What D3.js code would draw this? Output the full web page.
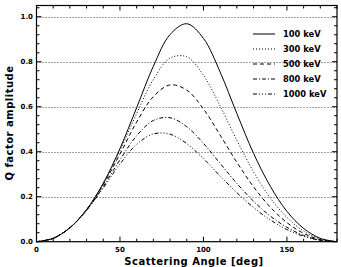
<!DOCTYPE html>
<html>
<head>
<meta charset="utf-8">
<script src="https://cdn.jsdelivr.net/npm/d3@7"></script>
<style>
  body { margin: 0; background: #fff; }
  svg { display: block; font-family: "DejaVu Sans", sans-serif; font-weight: bold; }
  .grid { stroke: #444; stroke-width: 1px; stroke-dasharray: 1 2; }
  .frame { fill: none; stroke: #000; stroke-width: 1.2px; }
  .tick-mark { stroke: #000; stroke-width: 1px; }
  .curve { fill: none; stroke: #000; stroke-width: 1px; }
  .ticklabel { font-size: 7px; fill: #000; }
  .title { font-size: 10px; fill: #000; letter-spacing: 0.5px; }
  .legend text { font-size: 8.3px; fill: #000; }
</style>
</head>
<body>
<svg id="chart" width="341" height="267"></svg>
<script>
  // scattering angle in degrees
  var angles = [0, 10, 20, 30, 40, 50, 60, 70, 80, 90, 100, 110, 120, 130, 140, 150, 160, 170, 180];

  var q100 = [0, 0.015, 0.062, 0.143, 0.260, 0.414, 0.596, 0.780, 0.921, 0.969, 0.904, 0.754, 0.570, 0.393, 0.247, 0.135, 0.059, 0.015, 0];
  var q300 = [0, 0.015, 0.062, 0.142, 0.258, 0.405, 0.570, 0.721, 0.816, 0.822, 0.740, 0.603, 0.451, 0.311, 0.195, 0.108, 0.047, 0.012, 0];
  var q500 = [0, 0.015, 0.062, 0.142, 0.254, 0.390, 0.532, 0.645, 0.697, 0.674, 0.590, 0.474, 0.353, 0.244, 0.154, 0.085, 0.037, 0.009, 0];
  var q800 = [0, 0.015, 0.062, 0.140, 0.245, 0.364, 0.471, 0.539, 0.551, 0.511, 0.437, 0.348, 0.259, 0.180, 0.114, 0.064, 0.028, 0.007, 0];
  var q1000 = [0, 0.015, 0.062, 0.139, 0.239, 0.345, 0.433, 0.479, 0.478, 0.436, 0.369, 0.292, 0.218, 0.152, 0.097, 0.054, 0.024, 0.006, 0];

  var seriesNames = ["100 keV", "300 keV", "500 keV", "800 keV", "1000 keV"];
  var seriesData = [q100, q300, q500, q800, q1000];
  var dashes = ["none", "1 2", "4 3", "4 2 1 2", "4 2 1 2 1 2 1 2"];

  var xTicks = [0, 50, 100, 150];
  var yTicks = [0.0, 0.2, 0.4, 0.6, 0.8, 1.0];

  var svg = d3.select("#chart");

  var x = d3.scaleLinear().domain([0, 180]).range([36.5, 337]);
  var y = d3.scaleLinear().domain([0, 1.05]).range([241.7, 5.5]);

  var x0 = x.range()[0], x1 = x.range()[1];
  var y0 = y.range()[0], y1 = y.range()[1];

  // dotted grid
  svg.append("g").selectAll("line")
    .data(yTicks.filter(function(d) { return d > 0; }))
    .enter().append("line")
      .attr("class", "grid")
      .attr("x1", x0).attr("x2", x1)
      .attr("y1", function(d) { return Math.round(y(d)) + 0.5; })
      .attr("y2", function(d) { return Math.round(y(d)) + 0.5; });

  // curves
  var line = d3.line()
    .x(function(d, i) { return x(angles[i]); })
    .y(function(d) { return y(d); })
    .curve(d3.curveCatmullRom.alpha(0.5));

  svg.append("g").selectAll("path")
    .data(seriesData)
    .enter().append("path")
      .attr("class", "curve")
      .attr("stroke-dasharray", function(d, i) { return dashes[i]; })
      .attr("stroke-width", function(d, i) { return i === 0 ? 1.2 : 1; })
      .attr("d", line);

  // frame
  svg.append("rect").attr("class", "frame")
    .attr("x", x0).attr("y", y1)
    .attr("width", x1 - x0).attr("height", y0 - y1);

  // ticks on all four sides, pointing inward
  var ticks = svg.append("g");
  var xMinor = d3.range(0, 181, 10);
  var yMinor = d3.range(0, 1.051, 0.04);

  xMinor.forEach(function(v) {
    var len = (v % 50 === 0) ? 5 : 3;
    ticks.append("line").attr("class", "tick-mark")
      .attr("x1", x(v)).attr("x2", x(v)).attr("y1", y0).attr("y2", y0 - len);
    ticks.append("line").attr("class", "tick-mark")
      .attr("x1", x(v)).attr("x2", x(v)).attr("y1", y1).attr("y2", y1 + len);
  });
  yMinor.forEach(function(v, i) {
    var len = (i % 5 === 0) ? 5 : 3;
    ticks.append("line").attr("class", "tick-mark")
      .attr("x1", x0).attr("x2", x0 + len).attr("y1", y(v)).attr("y2", y(v));
    ticks.append("line").attr("class", "tick-mark")
      .attr("x1", x1).attr("x2", x1 - len).attr("y1", y(v)).attr("y2", y(v));
  });

  // tick labels
  svg.append("g").selectAll("text")
    .data(xTicks)
    .enter().append("text")
      .attr("class", "ticklabel")
      .attr("x", function(d) { return x(d); })
      .attr("y", 252)
      .attr("text-anchor", "middle")
      .text(function(d) { return d; });

  svg.append("g").selectAll("text")
    .data(yTicks)
    .enter().append("text")
      .attr("class", "ticklabel")
      .attr("x", 33)
      .attr("y", function(d) { return y(d) + 2.5; })
      .attr("text-anchor", "end")
      .text(function(d) { return d.toFixed(1); });

  // axis titles
  svg.append("text").attr("class", "title")
    .attr("x", 194).attr("y", 265)
    .attr("text-anchor", "middle")
    .text("Scattering Angle [deg]");

  svg.append("text").attr("class", "title")
    .attr("transform", "translate(13," + 123 + ") rotate(-90)")
    .attr("text-anchor", "middle")
    .text("Q factor amplitude");

  // legend
  var legend = svg.append("g").attr("class", "legend");
  var rows = legend.selectAll("g")
    .data(seriesNames)
    .enter().append("g")
      .attr("transform", function(d, i) { return "translate(0," + (34 + i * 15) + ")"; });

  rows.append("line")
    .attr("class", "curve")
    .attr("x1", 253).attr("x2", 275)
    .attr("y1", 0).attr("y2", 0)
    .attr("stroke-width", function(d, i) { return i === 0 ? 1.2 : 1; })
    .attr("stroke-dasharray", function(d, i) { return dashes[i]; });

  rows.append("text")
    .attr("x", 283)
    .attr("y", 3)
    .text(function(d) { return d; });
</script>
</body>
</html>
